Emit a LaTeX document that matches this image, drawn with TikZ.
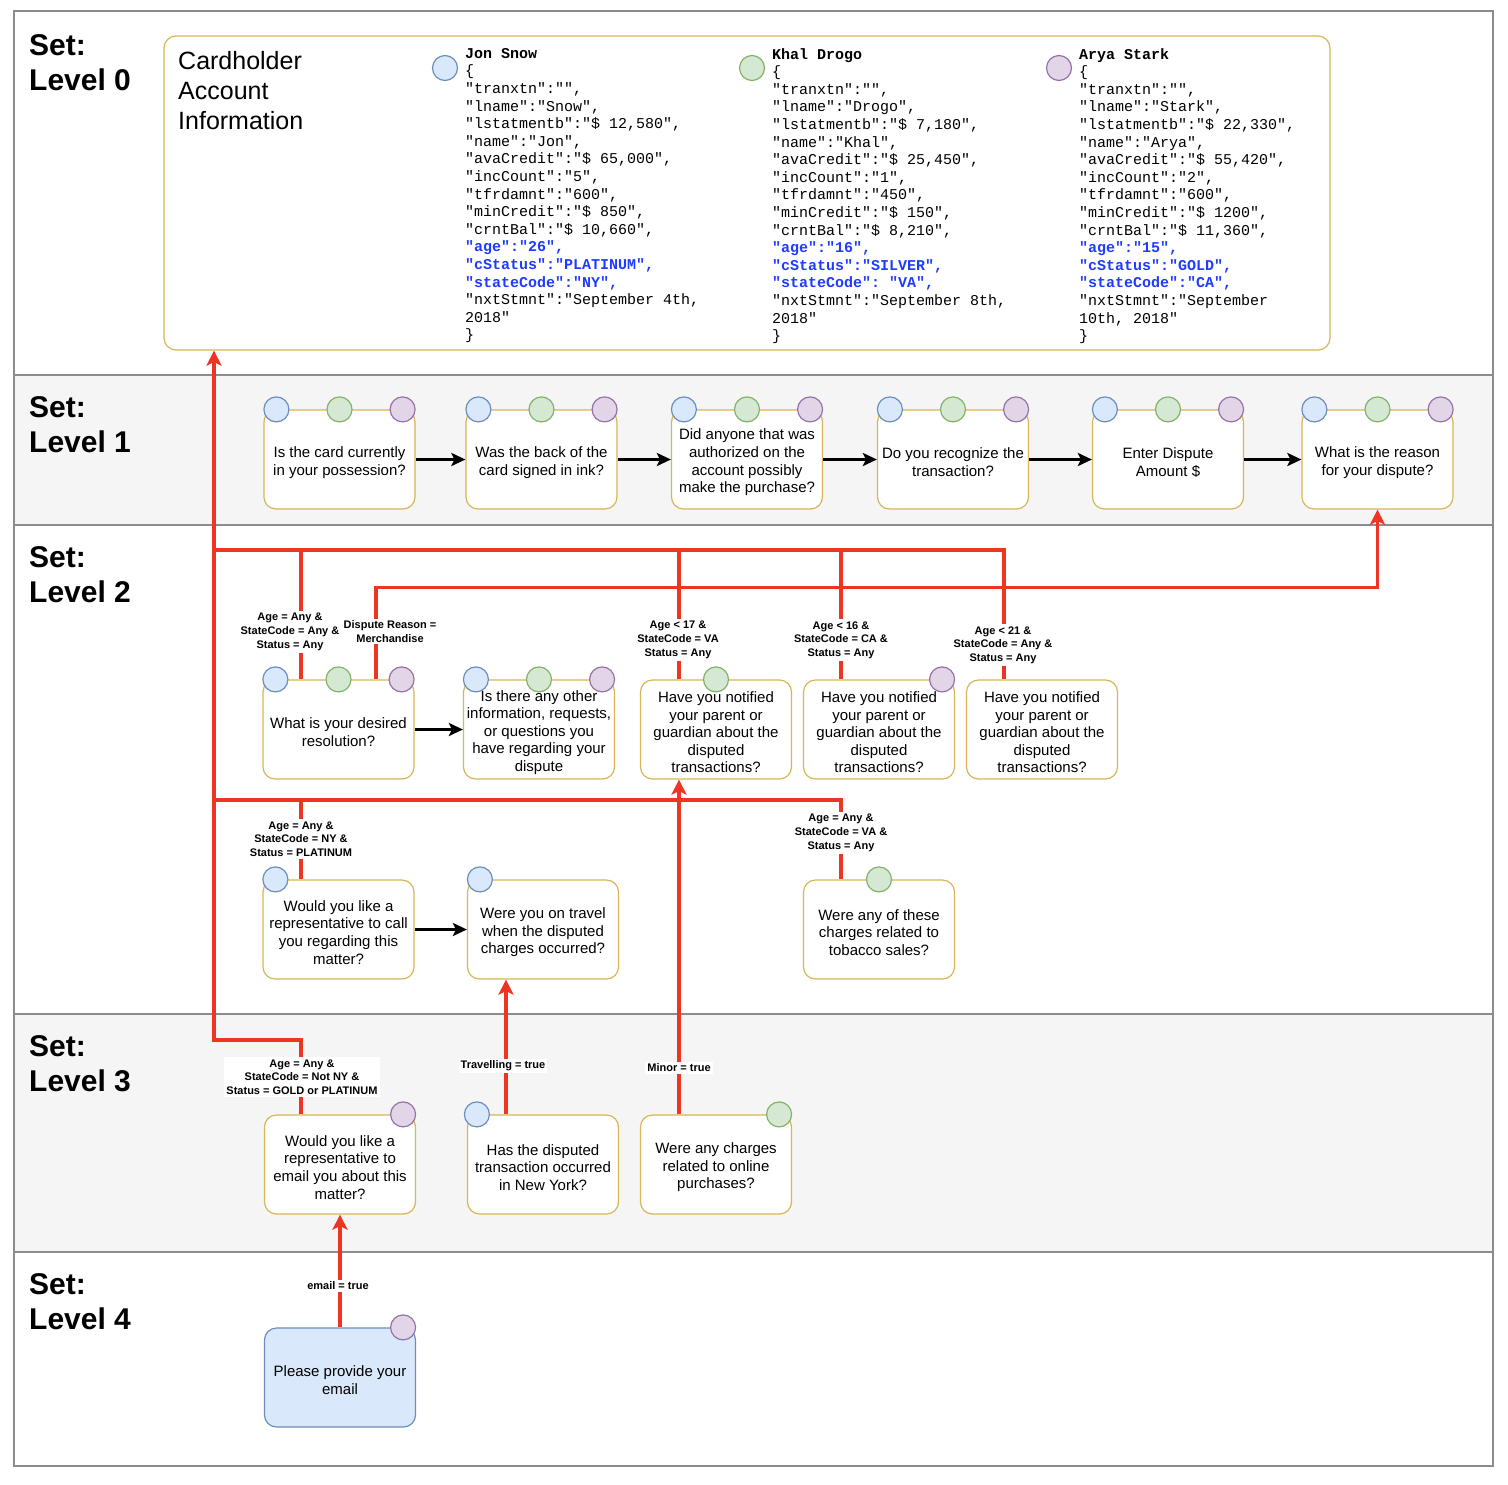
\documentclass[tikz,border=0pt]{standalone}
\usepackage{fontspec}
\setmainfont{Liberation Sans}
\setmonofont{Liberation Mono}
\usetikzlibrary{arrows.meta,calc}
\definecolor{gold}{HTML}{D6B656}
\definecolor{bfill}{HTML}{DAE8FC}\definecolor{bline}{HTML}{6C8EBF}
\definecolor{gfill}{HTML}{D5E8D4}\definecolor{gline}{HTML}{82B366}
\definecolor{pfill}{HTML}{E1D5E7}\definecolor{pline}{HTML}{9673A6}
\definecolor{lanegray}{HTML}{F5F5F5}
\definecolor{laneline}{HTML}{8C8C8C}
\definecolor{redl}{HTML}{EE3524}
\definecolor{jblue}{HTML}{1F3BFF}
\newcommand{\jbl}[1]{\textcolor{jblue}{\textbf{#1}}}
\newcommand{\qstrut}{\rule{0pt}{16.5pt}}
\begin{document}
\begin{tikzpicture}[x=1pt,y=-1pt,
  qbox/.style={draw=gold, fill=white, line width=1.2pt, rounded corners=12pt,
    minimum width=151pt, minimum height=99pt, align=center, inner sep=0pt,
    font=\fontsize{15}{17.6}\selectfont},
  dotb/.style={circle, draw=bline, fill=bfill, line width=1.2pt, minimum size=25pt, inner sep=0pt},
  dotg/.style={circle, draw=gline, fill=gfill, line width=1.2pt, minimum size=25pt, inner sep=0pt},
  dotp/.style={circle, draw=pline, fill=pfill, line width=1.2pt, minimum size=25pt, inner sep=0pt},
  settitle/.style={anchor=north west, align=left, inner sep=0pt, font=\bfseries\fontsize{30}{35}\selectfont},
  json/.style={anchor=north west, align=left, inner sep=0pt, font=\ttfamily\fontsize{15}{17.6}\selectfont},
  lab/.style={fill=white, align=center, inner sep=2pt, font=\bfseries\fontsize{11}{13.7}\selectfont},
  redline/.style={draw=redl, line width=3.5pt},
  redarr/.style={draw=redl, line width=3.5pt, -{Stealth[length=15pt,width=15pt,inset=3.5pt]}},
  blkarr/.style={draw=black, line width=3pt, -{Stealth[length=14pt,width=13pt,inset=3pt]}}
]
\useasboundingbox (0,0) rectangle (1508,1484);
\fill[white] (0,0) rectangle (1508,1484);
% lanes
\fill[lanegray] (14,375) rectangle (1493,525);
\fill[lanegray] (14,1014) rectangle (1493,1252);
\draw[laneline, line width=1.2pt] (14,375) -- (1493,375) (14,525) -- (1493,525)
  (14,1014) -- (1493,1014) (14,1252) -- (1493,1252);
\draw[laneline, line width=1.2pt] (14,11) rectangle (1493,1466);
% titles
\node[settitle] (t0) at (29,34) {Set:\\Level 0};
\node[settitle] (t1) at (29,396) {Set:\\Level 1};
\node[settitle] (t2) at (29,546) {Set:\\Level 2};
\node[settitle] (t3) at (29,1035) {Set:\\Level 3};
\node[settitle] (t4) at (29,1273) {Set:\\Level 4};

% Level 0 box
\node[draw=gold, fill=white, line width=1.2pt, rounded corners=12pt, minimum width=1166pt, minimum height=314pt] (box0) at (747,193) {};
\node[anchor=north west, align=left, inner sep=0pt, font=\fontsize{25}{30}\selectfont] (cai) at (178,51) {Cardholder\\Account\\Information};
\node[dotb] (c0a) at (445,68) {};
\node[dotg] (c0b) at (752,68) {};
\node[dotp] (c0c) at (1059,68) {};
\node[json] (js1) at (465,48) {\textbf{Jon Snow}\\\{\\"tranxtn":"",\\"lname":"Snow",\\"lstatmentb":"\$ 12,580",\\"name":"Jon",\\"avaCredit":"\$ 65,000",\\"incCount":"5",\\"tfrdamnt":"600",\\"minCredit":"\$ 850",\\"crntBal":"\$ 10,660",\\\jbl{"age":"26",}\\\jbl{"cStatus":"PLATINUM",}\\\jbl{"stateCode":"NY",}\\"nxtStmnt":"September 4th,\\2018"\\\}};
\node[json] (js2) at (772,48) {\textbf{Khal Drogo}\\\{\\"tranxtn":"",\\"lname":"Drogo",\\"lstatmentb":"\$ 7,180",\\"name":"Khal",\\"avaCredit":"\$ 25,450",\\"incCount":"1",\\"tfrdamnt":"450",\\"minCredit":"\$ 150",\\"crntBal":"\$ 8,210",\\\jbl{"age":"16",}\\\jbl{"cStatus":"SILVER",}\\\jbl{"stateCode": "VA",}\\"nxtStmnt":"September 8th,\\2018"\\\}};
\node[json] (js3) at (1079,48) {\textbf{Arya Stark}\\\{\\"tranxtn":"",\\"lname":"Stark",\\"lstatmentb":"\$ 22,330",\\"name":"Arya",\\"avaCredit":"\$ 55,420",\\"incCount":"2",\\"tfrdamnt":"600",\\"minCredit":"\$ 1200",\\"crntBal":"\$ 11,360",\\\jbl{"age":"15",}\\\jbl{"cStatus":"GOLD",}\\\jbl{"stateCode":"CA",}\\"nxtStmnt":"September\\10th, 2018"\\\}};

% Level 1
\node[qbox] (p1) at (339.5,459.5) {\qstrut Is the card currently\\in your possession?};
\node[qbox] (p2) at (541.5,459.5) {\qstrut Was the back of the\\card signed in ink?};
\node[qbox] (p3) at (747,459.5) {\qstrut Did anyone that was\\authorized on the\\account possibly\\make the purchase?};
\node[qbox] (p4) at (953,459.5) {\qstrut Do you recognize the\\transaction?};
\node[qbox] (p5) at (1168,459.5) {\qstrut Enter Dispute\\Amount \$};
\node[qbox] (p6) at (1377.5,459.5) {\qstrut What is the reason\\for your dispute?};
% Level 2
\node[qbox] (qA) at (338.5,729.5) {\qstrut What is your desired\\resolution?};
\node[qbox] (qB) at (539,729.5) {\qstrut Is there any other\\information, requests,\\or questions you\\have regarding your\\dispute};
\node[qbox] (qC) at (716,729.5) {\qstrut Have you notified\\your parent or\\guardian about the\\disputed\\transactions?};
\node[qbox] (qD) at (879,729.5) {\qstrut Have you notified\\your parent or\\guardian about the\\disputed\\transactions?};
\node[qbox] (qE) at (1042,729.5) {\qstrut Have you notified\\your parent or\\guardian about the\\disputed\\transactions?};
\node[qbox] (rA) at (338.5,929.5) {\qstrut Would you like a\\representative to call\\you regarding this\\matter?};
\node[qbox] (rB) at (543,929.5) {\qstrut Were you on travel\\when the disputed\\charges occurred?};
\node[qbox] (rC) at (879,929.5) {\qstrut Were any of these\\charges related to\\tobacco sales?};
% Level 3
\node[qbox] (sA) at (340,1164.5) {\qstrut Would you like a\\representative to\\email you about this\\matter?};
\node[qbox] (sB) at (543,1164.5) {\qstrut Has the disputed\\transaction occurred\\in New York?};
\node[qbox] (sC) at (716,1164.5) {\qstrut Were any charges\\related to online\\purchases?};
% Level 4
\node[qbox, draw=bline, fill=bfill] (e4) at (340,1377.5) {\qstrut Please provide your\\email};

% black arrows
\draw[blkarr] (p1.east) -- (p2.west);
\draw[blkarr] (p2.east) -- (p3.west);
\draw[blkarr] (p3.east) -- (p4.west);
\draw[blkarr] (p4.east) -- (p5.west);
\draw[blkarr] (p5.east) -- (p6.west);
\draw[blkarr] (qA.east) -- (qB.west);
\draw[blkarr] (rA.east) -- (rB.west);

% red connectors
\coordinate (k1) at (214,1040);
\coordinate (t550) at (214,550);
\coordinate (t800) at (214,800);
\draw[redarr] ([xshift=-39pt]sA.north) |- (k1) -- ([xshift=-533pt]box0.south);
\draw[redline] ([xshift=-37.5pt]qA.north) |- (t550);
\draw[redline] ([xshift=-37pt]qC.north) |- (t550);
\draw[redline] ([xshift=-38pt]qD.north) |- (t550);
\draw[redline] ([xshift=-38pt]qE.north) |- (t550);
\draw[redarr] ([xshift=37.5pt]qA.north) -- ++(0,-92) -| (p6.south);
\draw[redline] ([xshift=-37.5pt]rA.north) |- (t800);
\draw[redline] ([xshift=-38pt]rC.north) |- (t800);
\draw[redarr] ([xshift=-37pt]sC.north) -- ([xshift=-37pt]qC.south);
\draw[redarr] ([xshift=-37pt]sB.north) -- ([xshift=-37pt]rB.south);
\draw[redarr] (e4.north) -- (sA.south);

% labels
\node[lab] (l1) at (290,632) {Age = Any \&\\StateCode = Any \&\\Status = Any};
\node[lab] (l2) at (390,631.5) {Dispute Reason =\\Merchandise};
\node[lab] (l3) at (678,640) {Age < 17 \&\\StateCode = VA\\Status = Any};
\node[lab] (l4) at (841,640) {Age < 16 \&\\StateCode = CA \&\\Status = Any};
\node[lab] (l5) at (1003,645) {Age < 21 \&\\StateCode = Any \&\\Status = Any};
\node[lab] (l6) at (301,839) {Age = Any \&\\StateCode = NY \&\\Status = PLATINUM};
\node[lab] (l7) at (841,833) {Age = Any \&\\StateCode = VA \&\\Status = Any};
\node[lab] (l8) at (302,1077) {Age = Any \&\\StateCode = Not NY \&\\Status = GOLD or PLATINUM};
\node[lab] (l9) at (503,1066) {Travelling = true};
\node[lab] (l10) at (679,1068) {Minor = true};
\node[lab] (l11) at (338,1286) {email = true};

% circles
\foreach \b in {p1,p2,p3,p4,p5,p6,qA,qB}{
  \node[dotb] at ($(\b.north west)+(13,0)$) {};
  \node[dotg] at (\b.north) {};
  \node[dotp] at ($(\b.north east)+(-13,0)$) {};
}
\node[dotg] (cqC) at (qC.north) {};
\node[dotp] (cqD) at ($(qD.north east)+(-13,0)$) {};
\node[dotb] (crA) at ($(rA.north west)+(13,0)$) {};
\node[dotb] (crB) at ($(rB.north west)+(13,0)$) {};
\node[dotg] (crC) at (rC.north) {};
\node[dotp] (csA) at ($(sA.north east)+(-13,0)$) {};
\node[dotb] (csB) at ($(sB.north west)+(10,0)$) {};
\node[dotg] (csC) at ($(sC.north east)+(-13,0)$) {};
\node[dotp] (ce4) at ($(e4.north east)+(-13,0)$) {};
\end{tikzpicture}
\end{document}
